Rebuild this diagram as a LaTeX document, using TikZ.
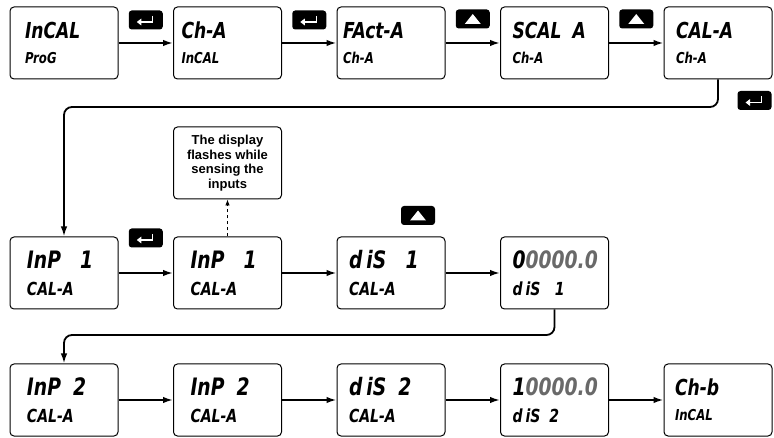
\documentclass[tikz,border=0pt]{standalone}
\usepackage{fontspec}
\usepackage{xcolor}
\usepackage{tikz}
\usetikzlibrary{arrows.meta, positioning, calc}
\newfontfamily\lcdfont{DejaVu Sans}[FakeStretch=0.78]
\newfontfamily\notefont{Liberation Sans}
\definecolor{lcdgray}{RGB}{105,105,105}
\newcommand{\lowsm}[1]{{\fontsize{15}{15}\selectfont #1}}
\newcommand{\lowbig}[1]{{\fontsize{18}{18}\selectfont #1}}
\newcommand{\entersym}[1]{\draw[white, line width=1.4pt, -{Triangle[length=4.5pt,width=6.5pt]}] ($(#1.center)+(7,-4)$) -- ($(#1.center)+(7,2)$) -- ($(#1.center)+(-9,2)$);}
\newcommand{\upsym}[1]{\fill[white] ($(#1.center)+(-8,5)$) -- ($(#1.center)+(8,5)$) -- ($(#1.center)+(0,-5)$) -- cycle;}

\begin{document}
\begin{tikzpicture}[
    x=1pt, y=-1pt,
    node distance=54.5pt,
    disp/.style={rectangle, draw, line width=1pt, rounded corners=4pt, minimum width=108pt, minimum height=72pt, inner sep=0pt, text width=88pt, align=left, font=\lcdfont\bfseries\itshape\fontsize{22}{25}\selectfont},
    bigdisp/.style={disp, font=\lcdfont\bfseries\itshape\fontsize{24}{27}\selectfont},
    note/.style={rectangle, draw, line width=1pt, rounded corners=4pt, minimum width=108pt, minimum height=72pt, inner sep=0pt, align=center, font=\notefont\bfseries\fontsize{13}{14.7}\selectfont},
    key/.style={rectangle, fill=black, rounded corners=3pt, minimum width=34pt, minimum height=19pt, inner sep=0pt},
    flow/.style={-{Latex[length=10pt,width=6.5pt]}, line width=1.8pt}
]
\useasboundingbox (0,0) rectangle (774,438);

% Row 1
\node[disp, text width=78pt] (incal) at (64,43) {InCAL\\\lowsm{ProG}};
\node[disp, right=of incal, text width=92pt] (cha) {Ch-A\\\lowsm{InCAL}};
\node[disp, right=of cha, text width=96pt] (fact) {FAct-A\\\lowsm{Ch-A}};
\node[disp, right=of fact, text width=84pt] (scal) {SCAL\enspace A\\\lowsm{Ch-A}};
\node[disp, right=of scal, text width=84pt] (cal) {CAL-A\\\lowsm{Ch-A}};

\draw[flow] (incal) -- (cha);
\draw[flow] (cha) -- (fact);
\draw[flow] (fact) -- (scal);
\draw[flow] (scal) -- (cal);

\node[key] (kent1) at ($(incal.east)!0.5!(cha.west)+(0,-23)$) {};
\node[key] (kent2) at ($(cha.east)!0.5!(fact.west)+(0,-23)$) {};
\node[key] (kup1) at ($(fact.east)!0.5!(scal.west)+(0,-24)$) {};
\node[key] (kup2) at ($(scal.east)!0.5!(cal.west)+(0,-24)$) {};
\entersym{kent1}
\entersym{kent2}
\upsym{kup1}
\upsym{kup2}

% Row 2
\node[bigdisp, text width=74pt] (inp1) at (64,273) {InP\hspace{0.8em}1\\\lowbig{CAL-A}};
\node[bigdisp, right=of inp1, text width=74pt] (inp1b) {InP\hspace{0.8em}1\\\lowbig{CAL-A}};
\node[bigdisp, right=of inp1b, text width=84pt] (dis1) {d\,iS\hspace{0.8em}1\\\lowbig{CAL-A}};
\node[bigdisp, right=of dis1, text width=84pt] (val1) {\hspace*{\fill}0\textcolor{lcdgray}{0000.0}\\\lowbig{d\,iS\hspace{0.8em}1}};

\coordinate (bend1) at (0,107);
\draw[flow, rounded corners=8pt] (cal.south) -- (cal.south |- bend1) -| (inp1.north);
\node[key] (kent3) at ($(cal.south)+(36.5,21)$) {};
\entersym{kent3}

\draw[flow] (inp1) -- (inp1b);
\draw[flow] (inp1b) -- (dis1);
\draw[flow] (dis1) -- (val1);

\node[key] (kent4) at ($(inp1.east)!0.5!(inp1b.west)+(0,-35)$) {};
\entersym{kent4}
\node[key] (kup3) at ($(dis1.north)+(27,-21)$) {};
\upsym{kup3}

\node[note, above=37pt of inp1b] (flash) {The display\\flashes while\\sensing the\\inputs};
\draw[-{Latex[length=6pt,width=4.5pt]}, dashed, line width=0.7pt] (inp1b.north) -- (flash.south);

% Row 3
\node[bigdisp, text width=74pt] (inp2) at (64,400) {InP\enspace 2\\\lowbig{CAL-A}};
\node[bigdisp, right=of inp2, text width=74pt] (inp2b) {InP\enspace 2\\\lowbig{CAL-A}};
\node[bigdisp, right=of inp2b, text width=84pt] (dis2) {d\,iS\enspace 2\\\lowbig{CAL-A}};
\node[bigdisp, right=of dis2, text width=84pt] (val2) {\hspace*{\fill}1\textcolor{lcdgray}{0000.0}\\\lowbig{d\,iS\enspace 2}};
\node[disp, right=of val2, text width=86pt] (chb) {Ch-b\\\lowsm{InCAL}};

\coordinate (bend2) at (0,335);
\draw[flow, rounded corners=8pt] (val1.south) -- (val1.south |- bend2) -| (inp2.north);

\draw[flow] (inp2) -- (inp2b);
\draw[flow] (inp2b) -- (dis2);
\draw[flow] (dis2) -- (val2);
\draw[flow] (val2) -- (chb);

\end{tikzpicture}
\end{document}
